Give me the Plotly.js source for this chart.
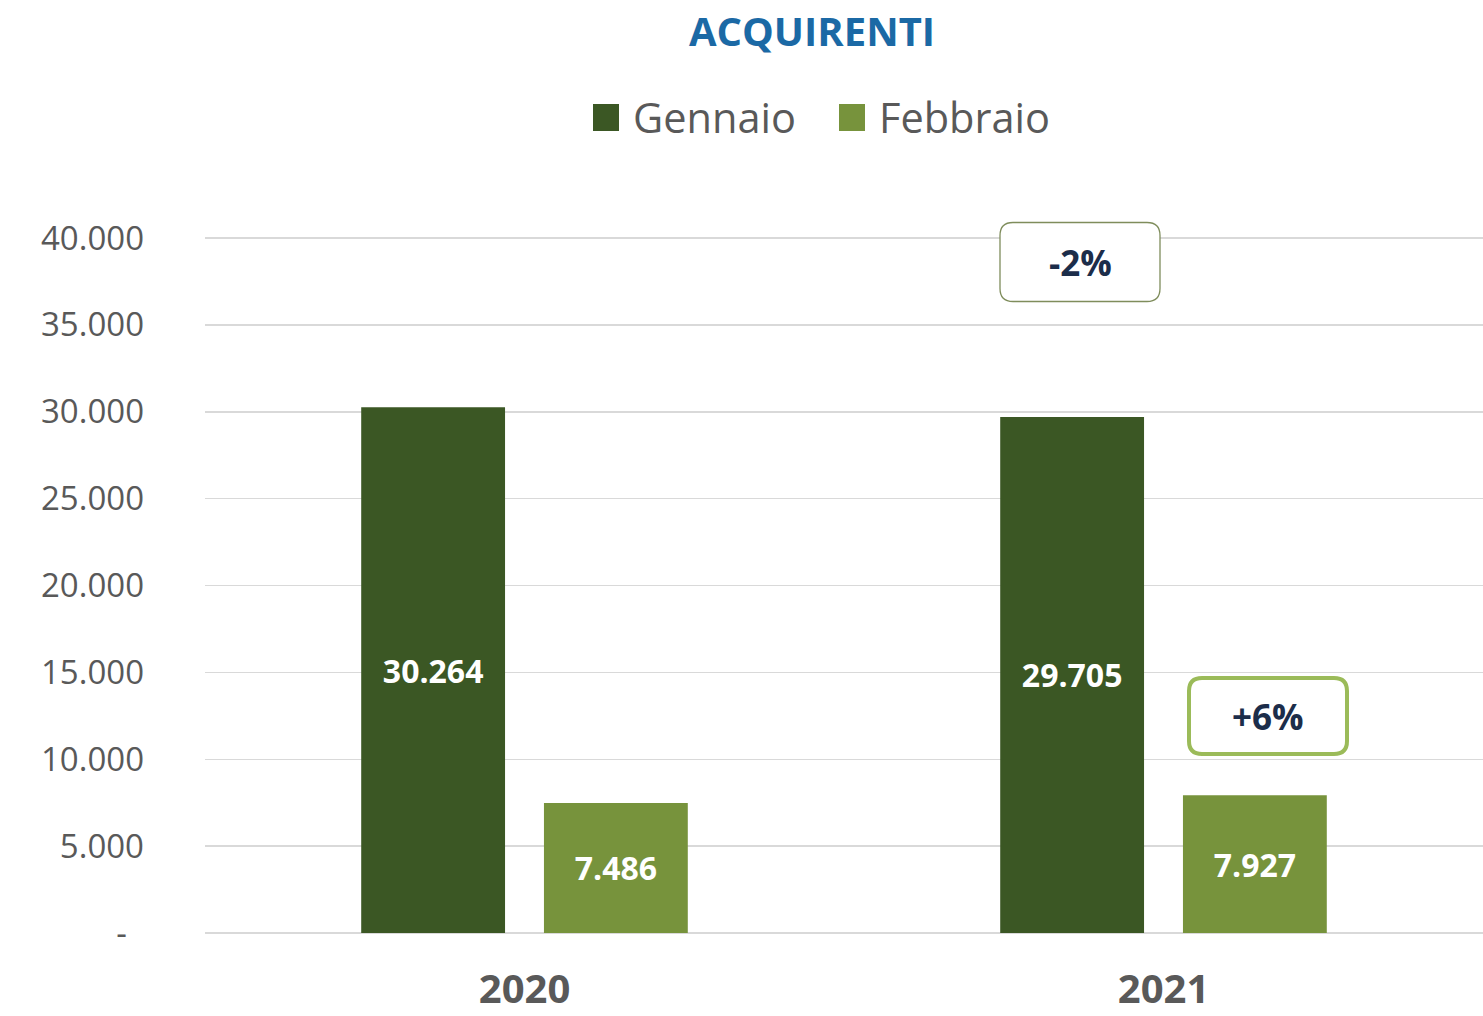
<!DOCTYPE html>
<html>
<head>
<meta charset="utf-8">
<script src="https://cdn.plot.ly/plotly-3.0.1.min.js"></script>
<style>
  html, body { margin: 0; padding: 0; background: #ffffff; }
  #chart { width: 1483px; height: 1016px; }
</style>
</head>
<body>
<div id="chart"></div>
<script>
// ---- data ----
const years = ["2020", "2021"];
const seriesNames = ["Gennaio", "Febbraio"];
const gennaio = [30264, 29705];
const febbraio = [7486, 7927];
const yTickVals = [0, 5000, 10000, 15000, 20000, 25000, 30000, 35000, 40000];
const yTickText = ["-\u00a0\u00a0", "5.000", "10.000", "15.000", "20.000", "25.000", "30.000", "35.000", "40.000"];
const chartTitle = "ACQUIRENTI";

// ---- styles ----
const FONT = "Open Sans, Noto Sans, sans-serif";
const darkGreen = "#3b5724";
const lightGreen = "#77933c";
const gray = "#595959";
const navy = "#1c2d4a";

function pct(a, b) {
  const v = Math.round((b - a) / a * 100);
  return (v > 0 ? "+" : "") + v + "%";
}

const W = 1483, H = 1016;
// plot area: value 0 at y=933px, value 40000 at y=238px; extend top so top gridline is drawn
const mL = 205, mR = 0, mT = 222, mB = 83;
const pw = W - mL - mR, ph = H - mT - mB;
const yMax = 40000 * ph / (933 - 238);
const px2x = p => (p - mL) / pw;
const px2y = p => (H - mB - p) / ph;

function roundRect(w, h, r) {
  const a = w / 2, b = h / 2;
  return `M ${-a + r},${-b} L ${a - r},${-b} Q ${a},${-b} ${a},${-b + r} L ${a},${b - r} Q ${a},${b} ${a - r},${b} ` +
         `L ${-a + r},${b} Q ${-a},${b} ${-a},${b - r} L ${-a},${-b + r} Q ${-a},${-b} ${-a + r},${-b} Z`;
}

const barText = {family: FONT, size: 32, color: "#ffffff", weight: "bold"};

const traces = [
  {
    type: "bar", name: seriesNames[0], x: years, y: gennaio,
    marker: {color: darkGreen},
    texttemplate: "<b>%{y:,}</b>", textposition: "inside", insidetextanchor: "middle",
    textangle: 0, constraintext: "none", insidetextfont: barText,
    hoverinfo: "skip", showlegend: false
  },
  {
    type: "bar", name: seriesNames[1], x: years, y: febbraio,
    marker: {color: lightGreen},
    texttemplate: "<b>%{y:,}</b>", textposition: "inside", insidetextanchor: "middle",
    textangle: 0, constraintext: "none", insidetextfont: barText,
    hoverinfo: "skip", showlegend: false
  }
];

const box1 = {cx: px2x(1080), cy: px2y(262), w: 160, h: 79};
const box2 = {cx: px2x(1268), cy: px2y(716), w: 158, h: 76};

const shapes = [
  {type: "path", xref: "paper", yref: "paper", xsizemode: "pixel", ysizemode: "pixel",
   xanchor: box1.cx, yanchor: box1.cy, path: roundRect(box1.w, box1.h, 13),
   fillcolor: "#ffffff", line: {color: "#7f8d5c", width: 1.3}, layer: "above"},
  {type: "path", xref: "paper", yref: "paper", xsizemode: "pixel", ysizemode: "pixel",
   xanchor: box2.cx, yanchor: box2.cy, path: roundRect(box2.w, box2.h, 13),
   fillcolor: "#ffffff", line: {color: "#9bbb59", width: 4}, layer: "above"},
  // legend swatches
  {type: "rect", xref: "paper", yref: "paper", x0: px2x(593), x1: px2x(619), y0: px2y(131), y1: px2y(104),
   fillcolor: darkGreen, line: {width: 0}},
  {type: "rect", xref: "paper", yref: "paper", x0: px2x(839), x1: px2x(865), y0: px2y(131), y1: px2y(104),
   fillcolor: lightGreen, line: {width: 0}}
];

const annotations = [
  {xref: "paper", yref: "paper", x: box1.cx, y: box1.cy, text: "<b>" + pct(gennaio[0], gennaio[1]) + "</b>",
   showarrow: false, xanchor: "center", yanchor: "middle", font: {family: FONT, size: 35, color: navy}},
  {xref: "paper", yref: "paper", x: box2.cx, y: box2.cy, text: "<b>" + pct(febbraio[0], febbraio[1]) + "</b>",
   showarrow: false, xanchor: "center", yanchor: "middle", font: {family: FONT, size: 35, color: navy}},
  {xref: "paper", yref: "paper", x: px2x(631), y: px2y(117), text: seriesNames[0],
   showarrow: false, xanchor: "left", yanchor: "middle", font: {family: FONT, size: 41.5, color: gray}},
  {xref: "paper", yref: "paper", x: px2x(877), y: px2y(117), text: seriesNames[1],
   showarrow: false, xanchor: "left", yanchor: "middle", font: {family: FONT, size: 41.5, color: gray}}
];

const layout = {
  width: W, height: H,
  margin: {l: mL, r: mR, t: mT, b: mB, pad: 0},
  paper_bgcolor: "#ffffff", plot_bgcolor: "#ffffff",
  separators: ",.",
  font: {family: FONT, color: gray},
  title: {text: "<b>" + chartTitle + "</b>", font: {family: FONT, size: 40, color: "#1b69a5"},
          xref: "paper", x: px2x(812), xanchor: "center", yref: "container", y: 1 - 32 / H, yanchor: "middle"},
  barmode: "group", bargap: 0.428, bargroupgap: 0.213,
  showlegend: false,
  xaxis: {type: "category", range: [-0.5, 1.5], showgrid: false, zeroline: false, showline: false,
          ticks: "", ticklabelstandoff: 29,
          tickfont: {family: FONT, size: 40, color: gray, weight: "bold"}},
  yaxis: {range: [0, yMax], tickvals: yTickVals, ticktext: yTickText,
          showgrid: true, gridcolor: "#d9d9d9", gridwidth: 1.5,
          zeroline: true, zerolinecolor: "#d9d9d9", zerolinewidth: 1.5,
          showline: false, ticks: "", ticklabelstandoff: 60,
          tickfont: {family: FONT, size: 33, color: gray}},
  shapes: shapes,
  annotations: annotations
};

Plotly.newPlot("chart", traces, layout, {staticPlot: true, displayModeBar: false});
</script>
</body>
</html>
